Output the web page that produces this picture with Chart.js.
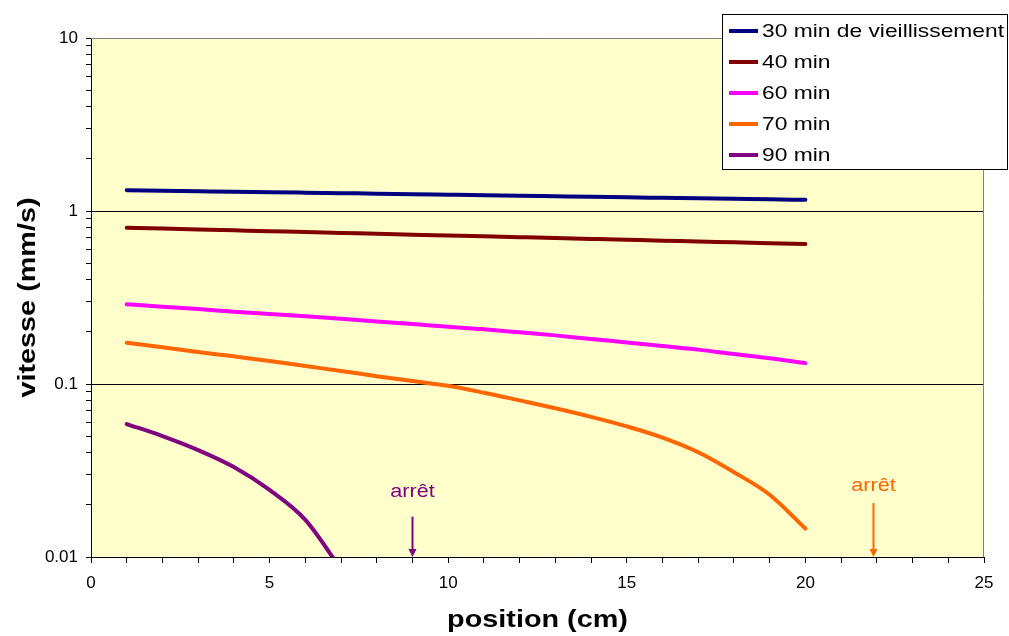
<!DOCTYPE html>
<html>
<head>
<meta charset="utf-8">
<script src="https://cdn.jsdelivr.net/npm/chart.js@4"></script>
<style>
html,body{margin:0;padding:0;background:#fff;}
#wrap{width:1009px;height:636px;position:relative;}
</style>
</head>
<body>
<div id="wrap"><canvas id="chart" width="1009" height="636"></canvas></div>
<script>
// positions (cm)
const positions=[1,2,3,4,5,6,7,8,9,10,11,12,13,14,15,16,17,18,19,20];
const positions90=[1,2,3,4,5,6,7];

// vitesse (mm/s)
const v30=[1.32,1.31,1.30,1.29,1.285,1.277,1.268,1.26,1.25,1.242,1.234,1.225,1.217,1.209,1.20,1.192,1.184,1.176,1.168,1.161];
const v40=[0.80,0.791,0.782,0.773,0.764,0.756,0.747,0.739,0.73,0.722,0.714,0.706,0.698,0.69,0.682,0.674,0.667,0.659,0.652,0.644];
const v60=[0.289,0.28,0.271,0.262,0.254,0.246,0.238,0.23,0.222,0.214,0.207,0.199,0.191,0.182,0.174,0.166,0.158,0.149,0.141,0.132];
const v70=[0.173,0.163,0.153,0.1445,0.136,0.127,0.119,0.111,0.104,0.0977,0.0891,0.0804,0.0724,0.0646,0.0569,0.049,0.0403,0.0309,0.0229,0.0146];
const v90=[0.0587,0.050,0.0415,0.0331,0.0244,0.0164,0.0085];

const seriesNames=["30 min de vieillissement","40 min","60 min","70 min","90 min"];
const seriesColors=["#000080","#800000","#FF00FF","#FF6600","#800080"];

// "arrêt" markers: x position, arrow top, label height
const stopX=[9,21.9];
const stopTop=[0.0171,0.0205];
const stopLabelY=[0.0238,0.0258];
const stopColors=["#800080","#FF6600"];

const yDecades=[0.01,0.1,1,10];
const yLabels=["0.01","0.1","1","10"];

const xTitle="position (cm)";
const yTitle="vitesse (mm/s)";

const FONT="'Liberation Sans', Arial, sans-serif";
const STRETCH=1.2; // text in the picture is drawn a bit wide

function pairs(xs,ys){ return ys.map((y,i)=>({x:xs[i],y:y})); }

const allData=[
    pairs(positions,v30),
    pairs(positions,v40),
    pairs(positions,v60),
    pairs(positions,v70),
    pairs(positions90,v90)
];

const datasets=allData.map((d,i)=>({
    label:seriesNames[i],
    data:d,
    borderColor:seriesColors[i],
    backgroundColor:seriesColors[i],
    borderWidth:4,
    pointRadius:0,
    cubicInterpolationMode:"monotone",
    borderCapStyle:"round"
}));

function wideText(c,txt,x,y,align,rot){
    c.save();
    c.translate(x,y);
    if(rot) c.rotate(rot);
    c.scale(STRETCH,1);
    c.textAlign=align;
    c.textBaseline="middle";
    c.fillText(txt,0,0);
    c.restore();
}

const decorations={
    id:"decorations",
    beforeDraw(chart){
        const a=chart.chartArea, c=chart.ctx;
        c.save();
        c.fillStyle="#FFFFCC";
        c.fillRect(a.left,a.top,a.right-a.left,a.bottom-a.top);
        c.restore();
    },
    afterDatasetsDraw(chart){
        const a=chart.chartArea, c=chart.ctx;
        const xs=chart.scales.x, ys=chart.scales.y;
        c.save();
        // top / right border of plot area
        c.strokeStyle="#808080";
        c.lineWidth=1;
        c.beginPath();
        c.moveTo(a.left,a.top+0.5);
        c.lineTo(a.right-0.5,a.top+0.5);
        c.lineTo(a.right-0.5,a.bottom);
        c.stroke();

        // arrêt arrows
        stopX.forEach((sx,i)=>{
            const px=Math.round(xs.getPixelForValue(sx))+0.5;
            const top=ys.getPixelForValue(stopTop[i]);
            const bot=ys.getPixelForValue(0.01);
            c.strokeStyle=stopColors[i];
            c.fillStyle=stopColors[i];
            c.lineWidth=2;
            c.beginPath();
            c.moveTo(px,top);
            c.lineTo(px,bot-6);
            c.stroke();
            c.beginPath();
            c.moveTo(px-4,bot-8);
            c.lineTo(px+4,bot-8);
            c.lineTo(px,bot);
            c.closePath();
            c.fill();
            c.font="18px "+FONT;
            wideText(c,"arrêt",px,ys.getPixelForValue(stopLabelY[i]),"center");
        });

        // axis titles
        c.fillStyle="#000";
        c.font="bold 24px "+FONT;
        wideText(c,xTitle,(a.left+a.right)/2,620,"center");
        wideText(c,yTitle,28,(a.top+a.bottom)/2,"center",-Math.PI/2);
        c.restore();
    },
    afterDraw(chart){
        const c=chart.ctx;
        c.save();
        c.fillStyle="#fff";
        c.fillRect(722.5,14.5,285,155);
        c.strokeStyle="#000";
        c.lineWidth=1;
        c.strokeRect(722.5,14.5,285,155);
        chart.data.datasets.forEach((ds,i)=>{
            const y=31+31*i;
            c.strokeStyle=ds.borderColor;
            c.lineWidth=4;
            c.beginPath();
            c.moveTo(729,y);
            c.lineTo(758,y);
            c.stroke();
            c.fillStyle="#000";
            c.font="19px "+FONT;
            wideText(c,ds.label,762,y+1,"left");
        });
        c.restore();
    }
};

new Chart(document.getElementById("chart"),{
    type:"line",
    data:{datasets:datasets},
    plugins:[decorations],
    options:{
        responsive:false,
        animation:false,
        layout:{padding:{top:38,right:25,left:0,bottom:0}},
        plugins:{legend:{display:false},tooltip:{enabled:false}},
        scales:{
            x:{
                type:"linear",
                min:0,max:25,
                afterFit(s){ s.height=79; },
                ticks:{
                    stepSize:1,
                    autoSkip:false,
                    maxRotation:0,
                    padding:10,
                    color:"#000",
                    font:{family:FONT,size:17},
                    callback:v=>(v%5===0?String(v):"")
                },
                grid:{drawOnChartArea:false,tickLength:6,tickColor:"#000",color:"#000"},
                border:{color:"#000",width:1}
            },
            y:{
                type:"logarithmic",
                min:0.01,max:10,
                afterFit(s){ s.width=91; },
                afterBuildTicks(s){
                    const t=[];
                    yDecades.forEach((d,i)=>{
                        if(i===yDecades.length-1){ t.push({value:d,major:true}); return; }
                        for(let k=1;k<10;k++) t.push({value:+(d*k).toPrecision(3),major:k===1});
                    });
                    s.ticks=t;
                },
                ticks:{
                    autoSkip:false,
                    padding:8,
                    color:"#000",
                    font:{family:FONT,size:17},
                    callback:v=>{
                        const i=yDecades.findIndex(d=>Math.abs(d-v)<d*1e-6);
                        return i>=0?yLabels[i]:"";
                    }
                },
                grid:{
                    tickLength:5,
                    tickColor:"#000",
                    color:ctx=>{
                        const v=ctx.tick&&ctx.tick.value;
                        return (v===1||v===0.1)?"#000":"rgba(0,0,0,0)";
                    }
                },
                border:{color:"#000",width:1}
            }
        }
    }
});
</script>
</body>
</html>
